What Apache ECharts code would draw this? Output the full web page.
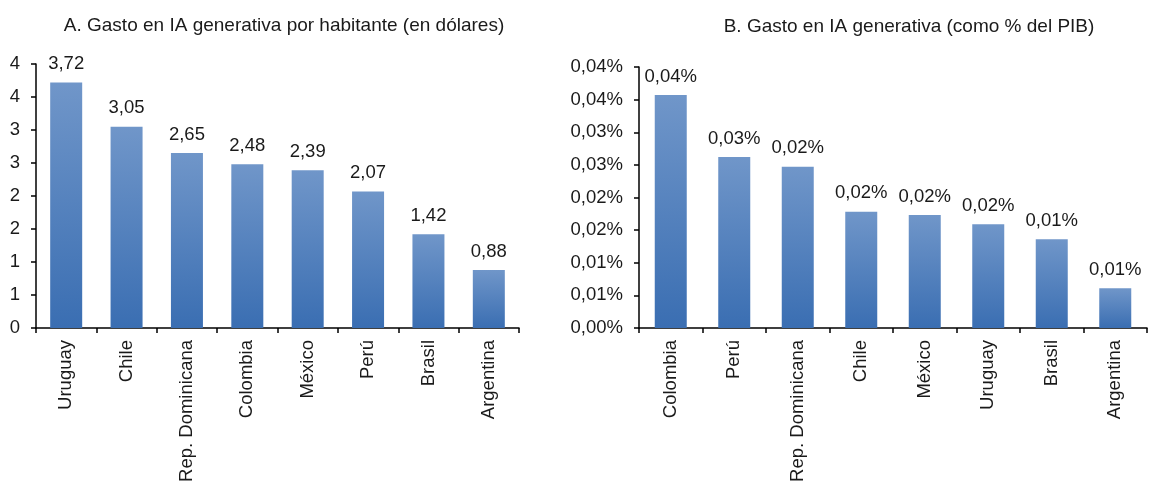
<!DOCTYPE html>
<html>
<head>
<meta charset="utf-8">
<script src="https://cdn.jsdelivr.net/npm/echarts@6/dist/echarts.min.js"></script>
<style>
  html, body { margin: 0; padding: 0; background: #fff; }
  #chart { width: 1154px; height: 481px; }
</style>
</head>
<body>
<div id="chart"></div>
<script>
// Panel A: gasto por habitante (USD)
const catsA = ['Uruguay', 'Chile', 'Rep. Dominicana', 'Colombia', 'México', 'Perú', 'Brasil', 'Argentina'];
const valsA = [3.72, 3.05, 2.65, 2.48, 2.39, 2.07, 1.42, 0.88];

// Panel B: gasto como % del PIB
const catsB = ['Colombia', 'Perú', 'Rep. Dominicana', 'Chile', 'México', 'Uruguay', 'Brasil', 'Argentina'];
const valsB = [0.0357, 0.0262, 0.0247, 0.0178, 0.0173, 0.0159, 0.0136, 0.0061];

const font = 'Liberation Sans, Arial, sans-serif';
const txt = '#1a1a1a';

function comma(v, d) {
  let r = Math.round(v * Math.pow(10, d) + 1e-7) / Math.pow(10, d);
  return r.toFixed(d).replace('.', ',');
}

const barColor = new echarts.graphic.LinearGradient(0, 0, 0, 1, [
  { offset: 0, color: '#7096c9' },
  { offset: 1, color: '#3a6eb2' }
]);

function xAxisFor(idx, cats) {
  return {
    type: 'category',
    gridIndex: idx,
    data: cats,
    axisLine: { lineStyle: { color: '#000', width: 1.5 } },
    axisTick: { show: true, alignWithLabel: false, length: 5, lineStyle: { color: '#000', width: 1.5 } },
    axisLabel: { rotate: 90, fontSize: 18.5, color: txt, fontFamily: font, margin: 12 }
  };
}

function yAxisFor(idx, max, interval, fmt) {
  return {
    type: 'value',
    gridIndex: idx,
    min: 0,
    max: max,
    interval: interval,
    splitLine: { show: false },
    axisLine: { show: true, lineStyle: { color: '#000', width: 1.5 } },
    axisTick: { show: true, length: 5, lineStyle: { color: '#000', width: 1.5 } },
    axisLabel: { fontSize: 18.5, color: txt, fontFamily: font, margin: 16, formatter: fmt }
  };
}

const chart = echarts.init(document.getElementById('chart'));

chart.setOption({
  animation: false,
  title: [
    {
      text: 'A. Gasto en IA generativa por habitante (en dólares)',
      left: 279, top: 11, textAlign: 'center',
      textStyle: { fontSize: 19, fontWeight: 'normal', color: txt, fontFamily: font }
    },
    {
      text: 'B. Gasto en IA generativa (como % del PIB)',
      left: 904, top: 12, textAlign: 'center',
      textStyle: { fontSize: 19, fontWeight: 'normal', color: txt, fontFamily: font }
    }
  ],
  grid: [
    { left: 36, right: 635, top: 64, bottom: 153, outerBoundsMode: 'none' },
    { left: 639, right: 7, top: 67, bottom: 153, outerBoundsMode: 'none' }
  ],
  xAxis: [xAxisFor(0, catsA), xAxisFor(1, catsB)],
  yAxis: [
    yAxisFor(0, 4, 0.5, v => String(Math.round(v))),
    yAxisFor(1, 0.04, 0.005, v => comma(v, 2) + '%')
  ],
  series: [
    {
      type: 'bar',
      xAxisIndex: 0, yAxisIndex: 0,
      data: valsA,
      barWidth: 32,
      itemStyle: { color: barColor },
      label: {
        show: true, position: 'top', distance: 9,
        fontSize: 18.5, color: txt, fontFamily: font,
        formatter: p => comma(p.value, 2)
      }
    },
    {
      type: 'bar',
      xAxisIndex: 1, yAxisIndex: 1,
      data: valsB,
      barWidth: 32,
      itemStyle: { color: barColor },
      label: {
        show: true, position: 'top', distance: 9,
        fontSize: 18.5, color: txt, fontFamily: font,
        formatter: p => comma(p.value, 2) + '%'
      }
    }
  ]
});
</script>
</body>
</html>
